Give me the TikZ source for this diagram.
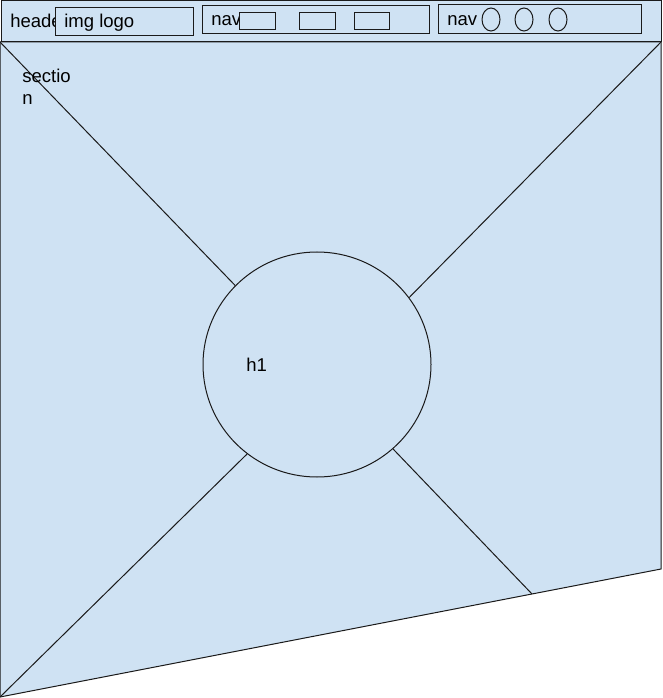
\documentclass[tikz,border=0pt]{standalone}
\usepackage{fontspec}
\setmainfont{Liberation Sans}
\usetikzlibrary{shapes.geometric}
\definecolor{boxfill}{HTML}{CFE2F3}
\definecolor{boxline}{HTML}{1A1A1A}
\begin{document}
\begin{tikzpicture}[x=0.75pt,y=-0.75pt,
  box/.style={draw=boxline,fill=boxfill,line width=0.75pt},
  wire/.style={draw=boxline,line width=0.75pt},
  lbl/.style={inner sep=0pt,anchor=base west,font=\fontsize{13.9pt}{16.5pt}\selectfont,text=black}]
\useasboundingbox (0,0) rectangle (662,698);
% section
\coordinate (tl) at (0,42);
\coordinate (tr) at (661,42);
\coordinate (br) at (661,569);
\coordinate (bl) at (0,697);
\coordinate (bm) at (532,594);
\path[box] (tl) -- (tr) -- (br) -- (bl) -- cycle;
\node[box,ellipse,minimum width=171pt,minimum height=168.75pt,inner sep=0pt] (circ) at (317,364.5) {};
\draw[wire] (tl) -- (circ.136.5);
\draw[wire] (tr) -- (circ.36.8);
\draw[wire] (bl) -- (circ.232.4);
\draw[wire] (bm) -- (circ.-48.9);
\node[lbl] (h1) at (246,371) {h1};
\node[lbl] (sec1) at (22,83) {sectio};
\node[lbl] (sec2) at (22,105) {n};
% header
\node[box,rectangle,minimum width=495pt,minimum height=30.75pt,inner sep=0pt] (header) at (331,21.5) {};
\node[lbl] (headertext) at (10,28) {header};
\node[box,rectangle,minimum width=103.5pt,minimum height=21pt,inner sep=0pt] (logo) at (124,22) {};
\node[lbl] (logotext) at (64,28) {img logo};
% nav 1
\node[box,rectangle,minimum width=170.25pt,minimum height=21pt,inner sep=0pt] (nav1) at (315.5,20) {};
\node[lbl] (nav1text) at (211,26) {nav};
\node[box,rectangle,minimum width=27pt,minimum height=12.75pt,inner sep=0pt] (n1a) at (257,21.5) {};
\node[box,rectangle,minimum width=27pt,minimum height=12.75pt,inner sep=0pt] (n1b) at (317,21.5) {};
\node[box,rectangle,minimum width=26.25pt,minimum height=12.75pt,inner sep=0pt] (n1c) at (371.5,21.5) {};
% nav 2
\node[box,rectangle,minimum width=152.25pt,minimum height=21.75pt,inner sep=0pt] (nav2) at (539.5,19.5) {};
\node[lbl] (nav2text) at (447,26) {nav};
\node[box,ellipse,minimum width=13.5pt,minimum height=17.25pt,inner sep=0pt] (e1) at (491,19.5) {};
\node[box,ellipse,minimum width=13.5pt,minimum height=17.25pt,inner sep=0pt] (e2) at (524,19.5) {};
\node[box,ellipse,minimum width=13.5pt,minimum height=17.25pt,inner sep=0pt] (e3) at (558,19.5) {};
\end{tikzpicture}
\end{document}
